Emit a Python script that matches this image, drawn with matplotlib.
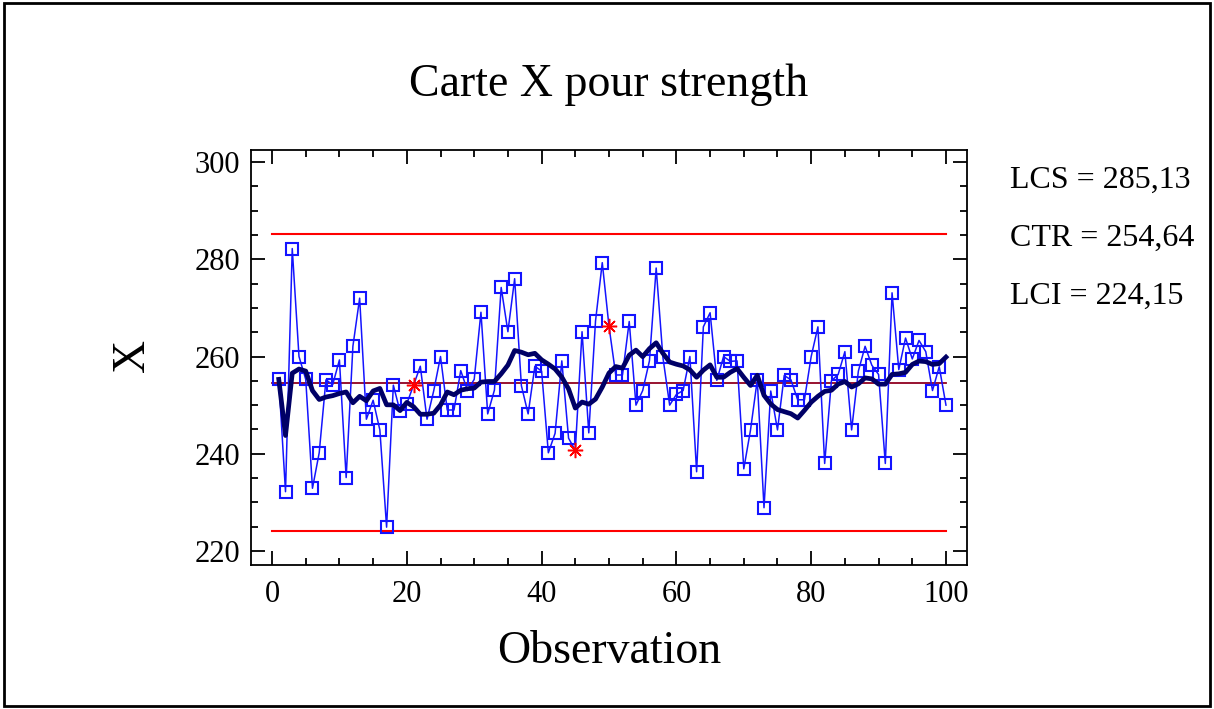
import numpy as np
import pandas as pd
import matplotlib
matplotlib.use('Agg')
import matplotlib.pyplot as plt
from matplotlib.patches import Rectangle
from matplotlib.ticker import MultipleLocator

plt.rcParams['font.family'] = ['Liberation Serif', 'DejaVu Serif']

strength = [
    255.3, 232.2, 282.2, 260.0, 255.3, 232.9, 240.2, 255.2, 254.2, 259.3,
    235.1, 262.1, 272.0, 247.1, 251.0, 244.9, 224.9, 254.1, 248.7, 250.3,
    254.1, 258.0, 247.1, 253.0, 260.0, 249.0, 249.0, 257.1, 253.0, 255.3,
    269.1, 248.2, 253.1, 274.2, 265.1, 276.0, 254.0, 248.2, 258.0, 257.0,
    240.2, 244.2, 259.1, 243.2, 240.7, 265.1, 244.3, 267.3, 279.3, 266.2,
    256.2, 256.2, 267.2, 250.0, 253.0, 259.1, 278.2, 259.8, 250.0, 252.2,
    253.0, 260.0, 236.3, 266.1, 269.0, 255.1, 260.0, 259.0, 259.1, 236.9,
    244.9, 255.2, 228.9, 252.9, 244.9, 256.1, 255.2, 251.1, 251.1, 260.0,
    266.1, 238.0, 255.0, 256.3, 261.0, 244.9, 257.0, 262.1, 258.2, 256.3,
    238.0, 273.1, 257.3, 263.8, 259.5, 263.3, 261.0, 253.0, 257.9, 250.0,
]
flagged = [21, 45, 50]   # points marqués d'une étoile
lcs, ctr, lci = 285.13, 254.64, 224.15

df = pd.DataFrame({'obs': np.arange(1, len(strength) + 1), 'x': strength})
df['ma'] = df['x'].rolling(9, min_periods=1).mean()
normal = df[~df['obs'].isin(flagged)]
stars = df[df['obs'].isin(flagged)]

fig = plt.figure(figsize=(12.14, 7.09), dpi=100)
fig.patches.append(Rectangle((0.003, 0.004), 0.994, 0.992, transform=fig.transFigure,
                             fill=False, edgecolor='black', linewidth=2))

ax = fig.add_axes([251 / 1214, 1 - 565 / 709, 716 / 1214, 415 / 709])

ax.plot([0, 100], [lcs, lcs], color='#ff0000', lw=1.5)
ax.plot([0, 100], [lci, lci], color='#ff0000', lw=1.5)
ax.plot([0, 100], [ctr, ctr], color='#900020', lw=1.3)

ax.plot(df['obs'], df['x'], color='#1414ff', lw=1.1, zorder=3)
ax.plot(normal['obs'], normal['x'], ls='none', marker='s', ms=8.5, mfc='none',
        mec='#1414ff', mew=1.5, zorder=4)
ax.plot(stars['obs'], stars['x'], ls='none', marker=(8, 2, 0), ms=11,
        mec='#ff0000', mew=1.1, zorder=4)
ax.plot(df['obs'], df['ma'], color='#000066', lw=3.4, zorder=5)

ax.set_xlim(-3.12, 103.12)
ax.set_ylim(217.12, 302.47)
ax.xaxis.set_major_locator(MultipleLocator(20))
ax.xaxis.set_minor_locator(MultipleLocator(5))
ax.yaxis.set_major_locator(MultipleLocator(20))
ax.yaxis.set_minor_locator(MultipleLocator(5))
ax.tick_params(which='both', direction='in', top=True, right=True, width=1.3)
ax.tick_params(which='major', length=10, labelsize=22, pad=8)
ax.tick_params(which='minor', length=5)
ax.tick_params(axis='x', which='major', pad=11)
for s in ax.spines.values():
    s.set_linewidth(1.3)

fig.text(0.5016, 0.880, 'Carte X pour strength', ha='center', va='center', fontsize=33)
fig.text(0.1096, 0.499, 'X', ha='center', va='center', rotation=90, fontsize=33)
fig.text(0.5016, 0.081, 'Observation', ha='center', va='center', fontsize=33)

fig.text(1010 / 1214, 1 - 180 / 709, 'LCS = 285,13', ha='left', va='center', fontsize=23)
fig.text(1010 / 1214, 1 - 238 / 709, 'CTR = 254,64', ha='left', va='center', fontsize=23)
fig.text(1010 / 1214, 1 - 296 / 709, 'LCI = 224,15', ha='left', va='center', fontsize=23)

fig.savefig('out.png', dpi=100)
